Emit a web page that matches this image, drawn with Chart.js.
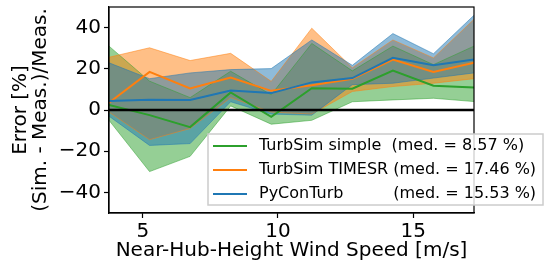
<!DOCTYPE html>
<html>
<head>
<meta charset="utf-8">
<script src="https://cdn.jsdelivr.net/npm/chart.js@4"></script>
<style>
  html, body { margin: 0; padding: 0; background: #fff; }
  #wrap { width: 550px; height: 264px; }
</style>
</head>
<body>
<div id="wrap"><canvas id="errChart"></canvas></div>
<script>
const windSpeed = [3.75, 5.25, 6.75, 8.25, 9.75, 11.25, 12.75, 14.25, 15.75, 17.25];

const simpleMed  = [2.5, -2.5, -8.3, 8.5, -3.3, 10.6, 10.3, 19.1, 11.8, 10.9];
const simpleLow  = [-5, -29.9, -22.5, 2, -6.9, -5, 4, 4.9, 5.7, 4.1];
const simpleHigh = [31, 14, 6, 18.8, 7.4, 32.3, 19, 31, 22, 31];

const timesrMed  = [3.5, 18.5, 10.5, 15.8, 9.3, 12, 15.2, 24.5, 18.5, 22.9];
const timesrLow  = [-1, -14.4, -9, 6, -1, -2, 9, 11.4, 13, 15.2];
const timesrHigh = [25.6, 30.2, 24, 27.5, 13.9, 39.7, 20.5, 34, 25.3, 44];

const pyconMed  = [4.4, 5, 4.9, 9.5, 8.2, 13.4, 15.5, 25.3, 21.7, 24.5];
const pyconLow  = [-3, -17.2, -16.3, 4, -2, -2.5, 12.3, 13, 15.5, 18];
const pyconHigh = [22.9, 15.2, 18, 19.6, 20.1, 34, 21.7, 37.1, 27.3, 46];

const xTicks = [5, 10, 15];
const yTicks = [-40, -20, 0, 20, 40];

const seriesNames = ['TurbSim simple', 'TurbSim TIMESR', 'PyConTurb'];
const seriesMedians = ['(med. = 8.57 %)', '(med. = 17.46 %)', '(med. = 15.53 %)'];

const green = '#2ca02c', orange = '#ff7f0e', blue = '#1f77b4';
const FONT = 'DejaVu Sans';

const pts = arr => arr.map((v, i) => ({ x: windSpeed[i], y: v }));

function lineSet(label, arr, color) {
  return { label: label, data: pts(arr), borderColor: color, borderWidth: 2,
           pointRadius: 0, fill: false, tension: 0 };
}
function bandSet(arr, color, fill) {
  return { label: '', data: pts(arr), borderColor: color, borderWidth: 1,
           backgroundColor: color, pointRadius: 0, fill: fill, tension: 0 };
}

// zero line, axes box and the legend drawn over the plot
const extras = {
  id: 'extras',
  afterDatasetsDraw(chart) {
    const { ctx, chartArea: a, scales } = chart;
    ctx.save();
    const y0 = scales.y.getPixelForValue(0);
    ctx.strokeStyle = '#000';
    ctx.lineWidth = 2.5;
    ctx.beginPath();
    ctx.moveTo(a.left, y0);
    ctx.lineTo(a.right, y0);
    ctx.stroke();

    ctx.lineWidth = 1.2;
    ctx.strokeRect(a.left, a.top, a.right - a.left, a.bottom - a.top);

    // legend
    const lx = 208, ly = 134, lw = 335, lh = 71;
    ctx.fillStyle = 'rgba(255,255,255,0.8)';
    ctx.fillRect(lx, ly, lw, lh);
    ctx.strokeStyle = '#cccccc';
    ctx.lineWidth = 1.5;
    ctx.strokeRect(lx, ly, lw, lh);
    const colors = [green, orange, blue];
    ctx.font = '16px "' + FONT + '"';
    ctx.textBaseline = 'middle';
    const medX = 259 + ctx.measureText('TurbSim TIMESR ').width;
    for (let i = 0; i < 3; i++) {
      const ry = 146 + i * 24;
      ctx.strokeStyle = colors[i];
      ctx.lineWidth = 2;
      ctx.beginPath();
      ctx.moveTo(213, ry);
      ctx.lineTo(247, ry);
      ctx.stroke();
      ctx.fillStyle = '#000';
      if (i === 0) {
        ctx.fillText(seriesNames[i] + '  ' + seriesMedians[i], 259, ry);
      } else {
        ctx.fillText(seriesNames[i], 259, ry);
        ctx.fillText(seriesMedians[i], medX, ry);
      }
    }
    ctx.restore();
  }
};

const tickFont = { family: FONT, size: 20 };
const minus = v => String(v).replace('-', '\u2212');

new Chart(document.getElementById('errChart'), {
  type: 'line',
  data: {
    datasets: [
      lineSet(seriesNames[2], pyconMed, blue),
      lineSet(seriesNames[1], timesrMed, orange),
      lineSet(seriesNames[0], simpleMed, green),
      bandSet(pyconHigh, 'rgba(31,119,180,0.5)', '+1'),
      bandSet(pyconLow, 'rgba(31,119,180,0.5)', false),
      bandSet(timesrHigh, 'rgba(255,127,14,0.5)', '+1'),
      bandSet(timesrLow, 'rgba(255,127,14,0.5)', false),
      bandSet(simpleHigh, 'rgba(44,160,44,0.5)', '+1'),
      bandSet(simpleLow, 'rgba(44,160,44,0.5)', false)
    ]
  },
  options: {
    responsive: true,
    maintainAspectRatio: false,
    animation: false,
    layout: { padding: { top: 7, right: 76, left: 0, bottom: 0 } },
    plugins: {
      legend: { display: false },
      tooltip: { enabled: false },
      filler: { drawTime: 'beforeDatasetsDraw', propagate: false }
    },
    scales: {
      x: {
        type: 'linear',
        min: 3.75,
        max: 17.25,
        afterBuildTicks: s => { s.ticks = xTicks.map(v => ({ value: v })); },
        afterFit: s => { s.height = 51; s.paddingLeft = 0; s.paddingRight = 0; },
        grid: { drawOnChartArea: false, tickLength: 5, tickColor: '#000', tickWidth: 1.2 },
        border: { color: '#000', width: 1.2 },
        ticks: { color: '#000', font: tickFont, padding: 2, maxRotation: 0 },
        title: { display: true, text: 'Near-Hub-Height Wind Speed [m/s]', color: '#000',
                 font: tickFont, padding: { top: 0, bottom: 1 } }
      },
      y: {
        min: -50,
        max: 50,
        afterBuildTicks: s => { s.ticks = yTicks.map(v => ({ value: v })); },
        afterFit: s => { s.width = 109; s.paddingTop = 0; s.paddingBottom = 0; },
        grid: { drawOnChartArea: false, tickLength: 5, tickColor: '#000', tickWidth: 1.2 },
        border: { color: '#000', width: 1.2 },
        ticks: { color: '#000', font: tickFont, padding: 3, callback: v => minus(v) },
        title: { display: true, text: ['Error [%]', '(Sim. - Meas.)/Meas.'], color: '#000',
                 font: { family: FONT, size: 20, lineHeight: 1.0 }, padding: { top: 11, bottom: 0 } }
      }
    }
  },
  plugins: [extras]
});
</script>
</body>
</html>
